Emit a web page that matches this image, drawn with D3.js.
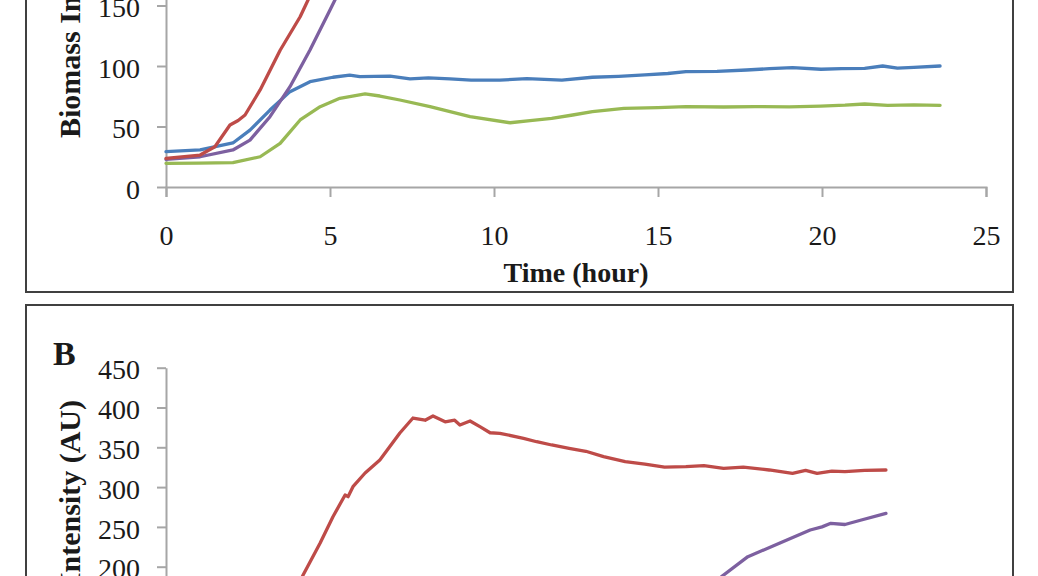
<!DOCTYPE html>
<html>
<head>
<meta charset="utf-8">
<script src="https://cdn.jsdelivr.net/npm/d3@7"></script>
<style>
  html, body { margin: 0; padding: 0; background: #fff; }
  svg { display: block; }
  text { font-family: "Liberation Serif", "Times New Roman", serif; fill: #1a1a1a; }
</style>
</head>
<body>
<svg id="chart" width="1038" height="576"></svg>
<script>
// ---------- DATA ----------
const xTicks = [0, 5, 10, 15, 20, 25];
const yTicksA = [0, 50, 100, 150, 200, 250];
const yTicksB = [0, 50, 100, 150, 200, 250, 300, 350, 400, 450];

// Panel A (Biomass)
const blueA_t = [0, 1.04, 2.04, 2.56, 3.17, 3.78, 4.39, 5.09, 5.6, 5.91, 6.83, 7.44, 8.0, 8.66, 9.3, 10.18, 11.0, 12.07, 13.0, 13.8, 14.6, 15.3, 15.85, 16.8, 17.7, 18.4, 19.1, 19.97, 20.6, 21.3, 21.85, 22.3, 22.8, 23.6];
const blueA_v = [29.2, 30.6, 36.4, 47, 63.6, 78.8, 87, 90.7, 92.5, 91.2, 91.7, 89.3, 90.2, 89.3, 88.4, 88.4, 89.5, 88.4, 90.7, 91.5, 92.6, 93.8, 95.3, 95.6, 96.7, 97.8, 98.6, 97.3, 97.8, 98.1, 100, 98.2, 98.9, 100];

const greenA_t = [0, 1.0, 2.04, 2.87, 3.48, 4.09, 4.70, 5.30, 6.07, 6.52, 7.13, 8.05, 9.27, 10.49, 11.1, 11.76, 12.4, 13.0, 13.96, 15.0, 15.85, 17.0, 17.96, 19.0, 19.96, 20.7, 21.3, 22.0, 22.8, 23.6];
const greenA_v = [19.6, 19.8, 20.1, 25, 36.1, 55.4, 66.4, 73.3, 76.9, 75.2, 71.9, 66.4, 58.1, 53.1, 54.8, 56.8, 59.5, 62.3, 65, 65.6, 66.4, 66.1, 66.4, 66.2, 66.9, 67.6, 68.6, 67.4, 67.8, 67.5];

const redA_t = [0, 1.04, 1.49, 1.95, 2.2, 2.41, 2.87, 3.48, 4.09, 4.33, 4.6];
const redA_v = [23.7, 26.4, 33.3, 51.2, 55, 59.5, 80.2, 113, 140.7, 154.5, 170];

const purpleA_t = [0, 1.04, 2.04, 2.56, 3.17, 3.78, 4.39, 5.0, 5.15, 5.4];
const purpleA_v = [22.9, 25, 30.6, 38.8, 58.1, 82.9, 113.2, 146.3, 154.5, 168];

// Panel B (Fluorescence)
const redB_t = [3.9, 4.18, 4.70, 5.09, 5.46, 5.55, 5.70, 6.07, 6.52, 7.13, 7.53, 7.90, 8.14, 8.51, 8.8, 8.96, 9.27, 9.57, 9.88, 10.18, 10.9, 11.3, 11.76, 12.29, 12.8, 13.34, 14.0, 14.6, 15.2, 15.85, 16.4, 17.0, 17.6, 18.39, 19.1, 19.5, 19.85, 20.3, 20.7, 21.3, 21.95];
const redB_v = [165, 189.6, 229.8, 262.8, 290, 288, 300.5, 317.7, 334, 368, 386.8, 384, 389.3, 382, 384, 378, 383, 375.9, 368.3, 367.6, 361.3, 357, 352.9, 348.7, 345, 338.2, 332, 329, 325, 325.6, 327, 323.6, 325, 321.5, 317.3, 321, 317.3, 320, 319.4, 321, 321.5];

const purpleB_t = [16.5, 16.96, 17.74, 18.7, 19.64, 20.0, 20.27, 20.7, 21.2, 21.95];
const purpleB_v = [170, 188.3, 212.6, 229.4, 246.1, 250, 254.5, 253, 258.7, 267];

// ---------- DRAW ----------
const svg = d3.select("#chart");
const colors = { blue: "#4a7ebb", red: "#be4b48", green: "#98b954", purple: "#7d60a0" };

function zip(t, v) { return t.map((d, i) => ({ t: d, v: v[i] })); }

// panel frames
svg.append("rect").attr("x", 26).attr("y", -300).attr("width", 987).attr("height", 592)
  .attr("fill", "none").attr("stroke", "#404040").attr("stroke-width", 2);
svg.append("rect").attr("x", 26).attr("y", 305).attr("width", 987).attr("height", 600)
  .attr("fill", "none").attr("stroke", "#404040").attr("stroke-width", 2);

const x = d3.scaleLinear().domain([0, 25]).range([166, 986]);

function panel(yScale, yTicks, axisY, series) {
  const g = svg.append("g");
  const ya = g.append("g").attr("transform", "translate(166,0)")
    .call(d3.axisLeft(yScale).tickValues(yTicks).tickSize(9).tickPadding(17).tickSizeOuter(0));
  ya.select(".domain").attr("stroke", "#a6a6a6").attr("stroke-width", 2);
  ya.selectAll(".tick line").attr("stroke", "#a6a6a6").attr("stroke-width", 2);
  ya.selectAll(".tick text").attr("font-size", 28).attr("dy", "0.4em")
    .attr("font-family", "Liberation Serif").attr("fill", "#1a1a1a");
  const xa = g.append("g").attr("transform", `translate(0,${axisY})`)
    .call(d3.axisBottom(x).tickValues(xTicks).tickSize(10).tickSizeOuter(10));
  xa.select(".domain").attr("stroke", "#a6a6a6").attr("stroke-width", 2);
  xa.selectAll(".tick line").attr("stroke", "#a6a6a6").attr("stroke-width", 2);
  xa.selectAll(".tick text").attr("font-size", 28).attr("y", 58).attr("dy", 0)
    .attr("font-family", "Liberation Serif").attr("fill", "#1a1a1a");
  const line = d3.line().x(d => x(d.t)).y(d => yScale(d.v));
  series.forEach(s => {
    g.append("path").datum(zip(s.t, s.v)).attr("d", line)
      .attr("fill", "none").attr("stroke", s.c).attr("stroke-width", 3.3)
      .attr("stroke-linejoin", "round").attr("stroke-linecap", "round");
  });
  return g;
}

// Panel A
const yA = d3.scaleLinear().domain([0, 250]).range([187, 187 - 250 * 1.21]);
panel(yA, yTicksA, 187, [
  { t: greenA_t, v: greenA_v, c: colors.green },
  { t: blueA_t, v: blueA_v, c: colors.blue },
  { t: purpleA_t, v: purpleA_v, c: colors.purple },
  { t: redA_t, v: redA_v, c: colors.red }
]);

// Panel B
const yB = d3.scaleLinear().domain([0, 450]).range([367.7 + 450 * 0.796, 367.7]);
panel(yB, yTicksB, yB(0), [
  { t: purpleB_t, v: purpleB_v, c: colors.purple },
  { t: redB_t, v: redB_v, c: colors.red }
]);

// titles
svg.append("text").attr("x", 576).attr("y", 282).attr("text-anchor", "middle")
  .attr("font-size", 28).attr("font-weight", "bold").text("Time (hour)");
svg.append("text").attr("transform", "translate(80,138) rotate(-90)").attr("text-anchor", "start")
  .attr("font-size", 30).attr("font-weight", "bold").text("Biomass Intensity (AU)");
svg.append("text").attr("transform", "translate(80,400) rotate(-90)").attr("text-anchor", "end")
  .attr("font-size", 30).attr("font-weight", "bold").text("Fluorescence Intensity (AU)");
svg.append("text").attr("x", 53).attr("y", 365)
  .attr("font-size", 34).attr("font-weight", "bold").text("B");
</script>
</body>
</html>
